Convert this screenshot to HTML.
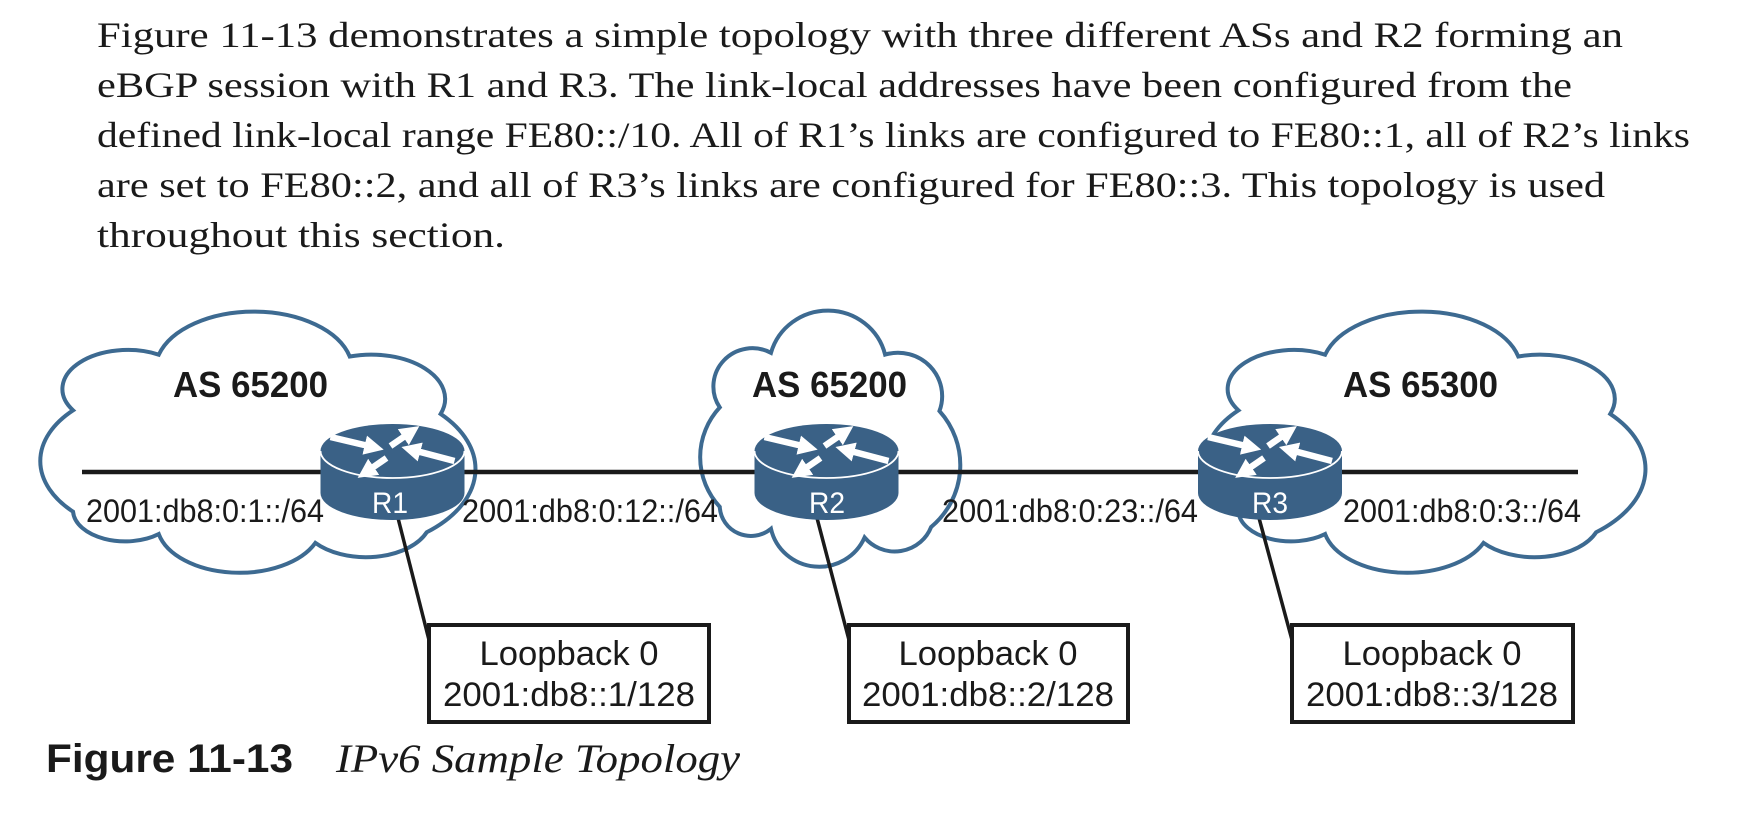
<!DOCTYPE html>
<html><head><meta charset="utf-8"><style>html,body{margin:0;padding:0;background:#fff}svg{display:block}</style></head>
<body>
<svg width="1742" height="818" viewBox="0 0 1742 818" xmlns="http://www.w3.org/2000/svg">
<defs>
<marker id="ah" viewBox="0 0 10 10" refX="2" refY="5" markerWidth="3" markerHeight="3" orient="auto" markerUnits="strokeWidth">
<path d="M0,0 L10,5 L0,10 z" fill="#fff"/></marker>
<g id="router">
<path d="M-72,0 L-72,42 A72,27 0 0 0 72,42 L72,0 Z" fill="#3a6186"/>
<ellipse cx="0" cy="0" rx="72" ry="27" fill="#3a6186"/>
<path d="M-72,0 A72,27 0 0 0 72,0" fill="none" stroke="#fff" stroke-width="1.8"/>
<g stroke="#fff" stroke-width="6.5" fill="none" marker-end="url(#ah)">
<line x1="-62" y1="-14" x2="-24" y2="-5"/>
<line x1="-2" y1="-5" x2="14" y2="-16"/>
<line x1="62" y1="10" x2="24" y2="0"/>
<line x1="-6" y1="7" x2="-22" y2="18"/>
</g>
</g>
</defs>
<g font-family="Liberation Serif, serif" font-size="36" fill="#1a1a1a">
<text x="97" y="47" textLength="1526" lengthAdjust="spacingAndGlyphs">Figure 11-13 demonstrates a simple topology with three different ASs and R2 forming an</text>
<text x="97" y="97" textLength="1475" lengthAdjust="spacingAndGlyphs">eBGP session with R1 and R3. The link-local addresses have been configured from the</text>
<text x="97" y="147" textLength="1593" lengthAdjust="spacingAndGlyphs">defined link-local range FE80::/10. All of R1’s links are configured to FE80::1, all of R2’s links</text>
<text x="97" y="197" textLength="1508" lengthAdjust="spacingAndGlyphs">are set to FE80::2, and all of R3’s links are configured for FE80::3. This topology is used</text>
<text x="97" y="247" textLength="408" lengthAdjust="spacingAndGlyphs">throughout this section.</text>
</g>
<g fill="#fff" stroke="#3d6a91" stroke-width="4">
<path transform="translate(40,311) scale(4.35,2.6)" vector-effect="non-scaling-stroke" d="M7.6,38.2 A15,15 0 0 1 27.3,16.8 A22.7,22.7 0 0 1 71.2,17.5 A17,17 0 0 1 92.1,39.6 A32,32 0 0 1 88.9,85.1 A15,15 0 0 1 63.3,89.2 A19,19 0 0 1 27.3,85.8 A12,12 0 0 1 7.6,77.2 A29,29 0 0 1 7.6,38.2 Z"/>
<path transform="translate(700,310) scale(2.6,2.55)" vector-effect="non-scaling-stroke" d="M7.6,38.2 A15,15 0 0 1 27.3,16.8 A22.7,22.7 0 0 1 71.2,17.5 A17,17 0 0 1 92.1,39.6 A32,32 0 0 1 88.9,85.1 A15,15 0 0 1 63.3,89.2 A19,19 0 0 1 27.3,85.8 A12,12 0 0 1 7.6,77.2 A29,29 0 0 1 7.6,38.2 Z"/>
<path transform="translate(1205,311) scale(4.4,2.6)" vector-effect="non-scaling-stroke" d="M7.6,38.2 A15,15 0 0 1 27.3,16.8 A22.7,22.7 0 0 1 71.2,17.5 A17,17 0 0 1 92.1,39.6 A32,32 0 0 1 88.9,85.1 A15,15 0 0 1 63.3,89.2 A19,19 0 0 1 27.3,85.8 A12,12 0 0 1 7.6,77.2 A29,29 0 0 1 7.6,38.2 Z"/>
</g>
<line x1="82" y1="472" x2="1578" y2="472" stroke="#1a1a1a" stroke-width="4.5"/>
<g stroke="#1a1a1a" stroke-width="3.5" fill="none">
<line x1="398" y1="518" x2="429" y2="640"/>
<line x1="817" y1="518" x2="849" y2="640"/>
<line x1="1259" y1="518" x2="1292" y2="640"/>
</g>
<use href="#router" x="392.5" y="451"/>
<use href="#router" x="826.5" y="451"/>
<use href="#router" x="1270" y="451"/>
<g font-family="Liberation Sans, sans-serif" fill="#fff" font-size="30" text-anchor="middle">
<text x="390" y="513" textLength="36" lengthAdjust="spacingAndGlyphs">R1</text><text x="827" y="513" textLength="36" lengthAdjust="spacingAndGlyphs">R2</text><text x="1270" y="513" textLength="36" lengthAdjust="spacingAndGlyphs">R3</text>
</g>
<g font-family="Liberation Sans, sans-serif" font-weight="bold" font-size="36" fill="#1a1a1a">
<text x="173" y="397" textLength="155" lengthAdjust="spacingAndGlyphs">AS 65200</text>
<text x="752" y="397" textLength="155" lengthAdjust="spacingAndGlyphs">AS 65200</text>
<text x="1343" y="397" textLength="155" lengthAdjust="spacingAndGlyphs">AS 65300</text>
</g>
<g font-family="Liberation Sans, sans-serif" font-size="32" fill="#1a1a1a">
<text x="86" y="522" textLength="238" lengthAdjust="spacingAndGlyphs">2001:db8:0:1::/64</text>
<text x="462" y="522" textLength="256" lengthAdjust="spacingAndGlyphs">2001:db8:0:12::/64</text>
<text x="942" y="522" textLength="256" lengthAdjust="spacingAndGlyphs">2001:db8:0:23::/64</text>
<text x="1343" y="522" textLength="238" lengthAdjust="spacingAndGlyphs">2001:db8:0:3::/64</text>
</g>
<g fill="#fff" stroke="#1a1a1a" stroke-width="4">
<rect x="429" y="625" width="280" height="97"/>
<rect x="849" y="625" width="279" height="97"/>
<rect x="1292" y="625" width="281" height="97"/>
</g>
<g font-family="Liberation Sans, sans-serif" font-size="34" fill="#1a1a1a" text-anchor="middle">
<text x="569" y="665" textLength="179" lengthAdjust="spacingAndGlyphs">Loopback 0</text>
<text x="569" y="706" textLength="252" lengthAdjust="spacingAndGlyphs">2001:db8::1/128</text>
<text x="988" y="665" textLength="179" lengthAdjust="spacingAndGlyphs">Loopback 0</text>
<text x="988" y="706" textLength="252" lengthAdjust="spacingAndGlyphs">2001:db8::2/128</text>
<text x="1432" y="665" textLength="179" lengthAdjust="spacingAndGlyphs">Loopback 0</text>
<text x="1432" y="706" textLength="252" lengthAdjust="spacingAndGlyphs">2001:db8::3/128</text>
</g>
<text x="46" y="772" font-family="Liberation Sans, sans-serif" font-weight="bold" font-size="40" fill="#1a1a1a" textLength="247" lengthAdjust="spacingAndGlyphs">Figure 11-13</text>
<text x="336" y="772" font-family="Liberation Serif, serif" font-style="italic" font-size="40" fill="#1a1a1a" textLength="404" lengthAdjust="spacingAndGlyphs">IPv6 Sample Topology</text>
</svg>
</body></html>
